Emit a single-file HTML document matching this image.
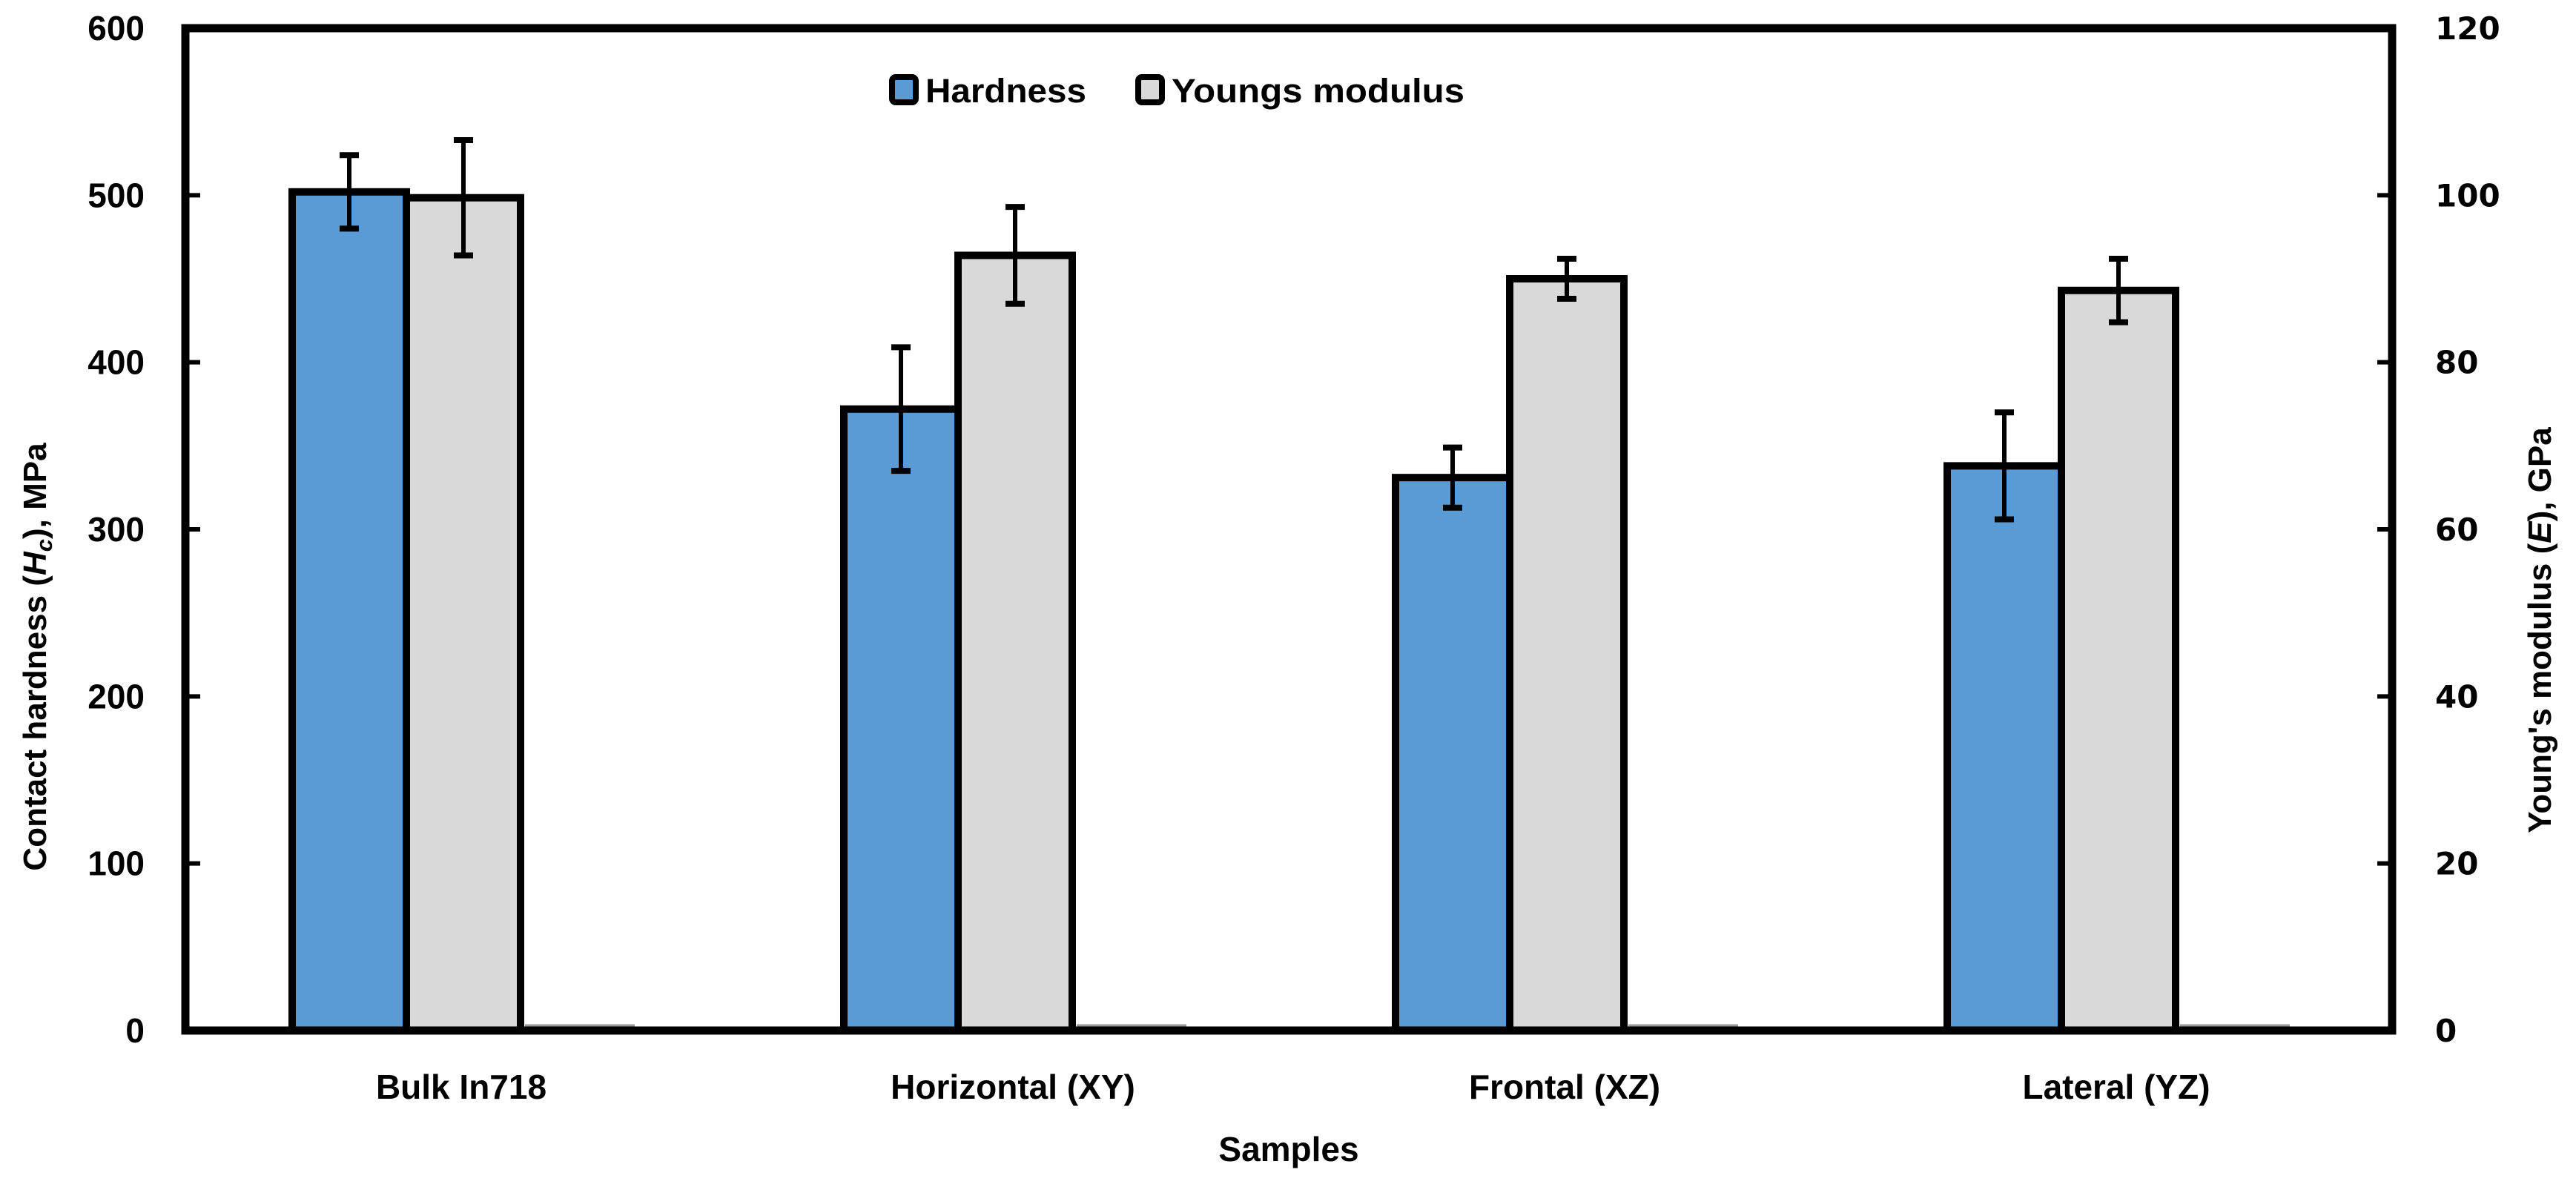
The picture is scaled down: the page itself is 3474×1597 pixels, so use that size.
<!DOCTYPE html>
<html><head><meta charset="utf-8"><style>html,body{margin:0;padding:0;background:#fff}svg{display:block}</style></head>
<body>
<svg id="chart" width="3474" height="1597" viewBox="0 0 3474 1597" xmlns="http://www.w3.org/2000/svg" font-family="Liberation Sans, sans-serif" font-weight="bold">
<g id="marks"></g>
<g id="axes"></g>
</svg>
<script>
const categories = ["Bulk In718", "Horizontal (XY)", "Frontal (XZ)", "Lateral (YZ)"];
const hardness = [502, 372, 331, 338];
const hardnessErr = [22, 37, 18, 32];
const modulus = [99.7, 92.8, 90.0, 88.6];
const modulusErr = [6.9, 5.8, 2.4, 3.8];
const leftTicks = [0, 100, 200, 300, 400, 500, 600];
const rightTicks = [0, 20, 40, 60, 80, 100, 120];

const NS = "http://www.w3.org/2000/svg";
const X0 = 250, X1 = 3226, Y0 = 1390, Y1 = 38;
const yL = v => Y0 - (v / 600) * (Y0 - Y1);
const yR = v => Y0 - (v / 120) * (Y0 - Y1);
const catW = (X1 - X0) / categories.length;
const barW = 154;
const catC = i => X0 + catW * (i + 0.5);
const marks = document.getElementById('marks');
const axes = document.getElementById('axes');
function mk(tag, attrs, parent, text) {
  const e = document.createElementNS(NS, tag);
  for (const k in attrs) e.setAttribute(k, attrs[k]);
  if (text !== undefined) e.textContent = text;
  parent.appendChild(e);
  return e;
}
function errBar(x, yTop, yBot, name) {
  const g = mk('g', {}, marks);
  
  
  mk('line', {x1: x, x2: x, y1: yTop, y2: yBot, stroke: '#000', 'stroke-width': 6}, g);
  mk('line', {x1: x - 13, x2: x + 13, y1: yTop, y2: yTop, stroke: '#000', 'stroke-width': 8}, g);
  mk('line', {x1: x - 13, x2: x + 13, y1: yBot, y2: yBot, stroke: '#000', 'stroke-width': 8}, g);
}
categories.forEach((c, i) => {
  const left = catC(i) - 1.5 * barW + 3;
  const h = mk('rect', {x: left, y: yL(hardness[i]), width: barW, height: Y0 - yL(hardness[i]), fill: '#5b9bd5', stroke: '#000', 'stroke-width': 10}, marks);
  
  
  const m = mk('rect', {x: left + barW, y: yR(modulus[i]), width: barW, height: Y0 - yR(modulus[i]), fill: '#d9d9d9', stroke: '#000', 'stroke-width': 10}, marks);
  
  
  const z = mk('line', {x1: left + 2 * barW + 6, x2: left + 3 * barW, y1: Y0 - 7, y2: Y0 - 7, stroke: '#999', 'stroke-width': 3}, marks);
  
  
  errBar(left + barW / 2, yL(hardness[i] + hardnessErr[i]), yL(hardness[i] - hardnessErr[i]), 'hardness-error-bar');
  errBar(left + 1.5 * barW, yR(modulus[i] + modulusErr[i]), yR(modulus[i] - modulusErr[i]), 'modulus-error-bar');
  const t = mk('text', {x: catC(i), y: 1482, 'font-size': 46, 'text-anchor': 'middle'}, axes, c);
  
  
});
const fr = mk('rect', {x: X0, y: Y1, width: X1 - X0, height: Y0 - Y1, fill: 'none', stroke: '#000', 'stroke-width': 11}, axes);


leftTicks.forEach(v => {
  const y = yL(v);
  mk('line', {x1: X0, x2: X0 + 20, y1: y, y2: y, stroke: '#000', 'stroke-width': 6}, axes);
  const t = mk('text', {x: 195, y: y + 16, 'font-size': 46, 'text-anchor': 'end'}, axes, String(v));
  
  
});
rightTicks.forEach(v => {
  const y = yR(v);
  mk('line', {x1: X1 - 20, x2: X1, y1: y, y2: y, stroke: '#000', 'stroke-width': 6}, axes);
  const t = mk('text', {x: 3284, y: y + 15, 'font-size': 42, 'font-family': 'DejaVu Sans, sans-serif'}, axes, String(v));
  
  
});
</script>
<svg style="position:absolute;left:0;top:0" width="3474" height="1597" font-family="Liberation Sans, sans-serif" font-weight="bold" xmlns="http://www.w3.org/2000/svg">
<g>
<rect x="1203" y="104" width="32" height="34" rx="5" fill="#5b9bd5" stroke="#000" stroke-width="8"/>
<text x="1248" y="138" font-size="45" textLength="217" lengthAdjust="spacingAndGlyphs">Hardness</text>
<rect x="1535" y="104" width="32" height="34" rx="5" fill="#d9d9d9" stroke="#000" stroke-width="8"/>
<text x="1580" y="138" font-size="45" textLength="395" lengthAdjust="spacingAndGlyphs">Youngs modulus</text>
</g>
<text x="1738" y="1566" font-size="46" text-anchor="middle">Samples</text>
<text transform="translate(62,886) rotate(-90)" font-size="44" text-anchor="middle">Contact hardness (<tspan font-style="italic">H<tspan font-size="31" dy="8">c</tspan></tspan><tspan dy="-8">), MPa</tspan></text>
<text transform="translate(3440,850) rotate(-90)" font-size="44" text-anchor="middle">Young's modulus (<tspan font-style="italic">E</tspan>), GPa</text>
</svg>
</body></html>
